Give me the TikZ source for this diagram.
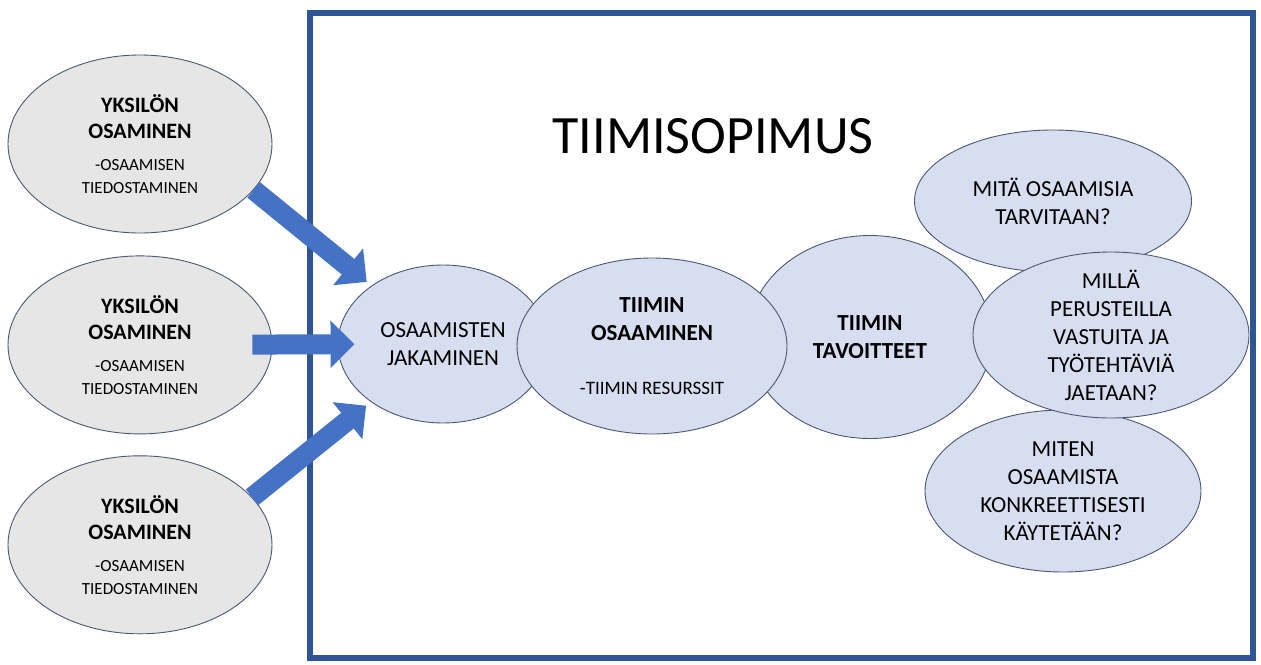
\documentclass[tikz,border=0pt]{standalone}
\usepackage{fontspec}
\setmainfont{Carlito}
\usetikzlibrary{positioning,arrows.meta,shapes.geometric}
\definecolor{frameblue}{RGB}{47,85,151}
\definecolor{arrowblue}{RGB}{68,114,196}
\definecolor{ellgray}{RGB}{231,230,230}
\definecolor{ellblue}{RGB}{214,222,240}
\definecolor{ellline}{RGB}{75,88,115}
\newcommand{\smalltxt}{\fontsize{17}{21}\selectfont}

\begin{document}
\begin{tikzpicture}[x=1pt, y=-1pt,
  ell/.style={ellipse, draw=ellline, line width=0.9pt, align=center, inner sep=0pt, font=\fontsize{23}{28}\selectfont},
  own/.style={ell, fill=ellgray, minimum width=264pt, minimum height=178pt, font=\fontsize{22}{26}\selectfont},
  team/.style={ell, fill=ellblue},
  arr/.style={-{Triangle[length=24pt, width=46pt]}, line width=20pt, arrowblue}]
\useasboundingbox (0,0) rectangle (1261,664);
\draw[frameblue, line width=6pt] (310,13) rectangle (1253,658);
\node[font=\fontsize{54}{60}\selectfont] (title) at (713,136) {TIIMISOPIMUS};
% kysymykset oikealla
\node[team, minimum width=277pt, minimum height=142pt] (mita) at (1053,201) {MITÄ OSAAMISIA\\TARVITAAN?};
\node[team, minimum width=276pt, minimum height=162pt] (miten) at (1063,491) {MITEN\\OSAAMISTA\\KONKREETTISESTI\\KÄYTETÄÄN?};
\node[team, minimum width=244pt, minimum height=203pt] (tav) at (870,337) {\textbf{TIIMIN}\\\textbf{TAVOITTEET}};
\node[team, minimum width=276pt, minimum height=166pt, inner ysep=-10pt] (milla) at (1111,335) {MILLÄ\\PERUSTEILLA\\VASTUITA JA\\TYÖTEHTÄVIÄ\\JAETAAN?};
% tiimin ketju
\node[team, minimum width=210pt, minimum height=158pt] (jak) at (443,344) {OSAAMISTEN\\JAKAMINEN};
\node[team, minimum width=270pt, minimum height=176pt] (tos) at (652,346) {\textbf{TIIMIN}\\\textbf{OSAAMINEN}\\[26pt]{\fontsize{19}{23}\selectfont -TIIMIN RESURSSIT}};
% yksilot vasemmalla
\node[own] (y1) at (140,144) {\textbf{YKSILÖN}\\\textbf{OSAMINEN}\\[6pt]{\smalltxt -OSAAMISEN}\\[-3pt]{\smalltxt TIEDOSTAMINEN}};
\node[own, below=22pt of y1] (y2) {\textbf{YKSILÖN}\\\textbf{OSAMINEN}\\[6pt]{\smalltxt -OSAAMISEN}\\[-3pt]{\smalltxt TIEDOSTAMINEN}};
\node[own, below=21pt of y2] (y3) {\textbf{YKSILÖN}\\\textbf{OSAMINEN}\\[6pt]{\smalltxt -OSAAMISEN}\\[-3pt]{\smalltxt TIEDOSTAMINEN}};
\foreach \a/\s/\e in {y1.-22/0pt/6pt, y2/-20pt/-17pt, y3.23/0pt/6pt}
  \draw[arr, shorten <=\s, shorten >=\e] (\a) -- (jak);
\end{tikzpicture}
\end{document}
